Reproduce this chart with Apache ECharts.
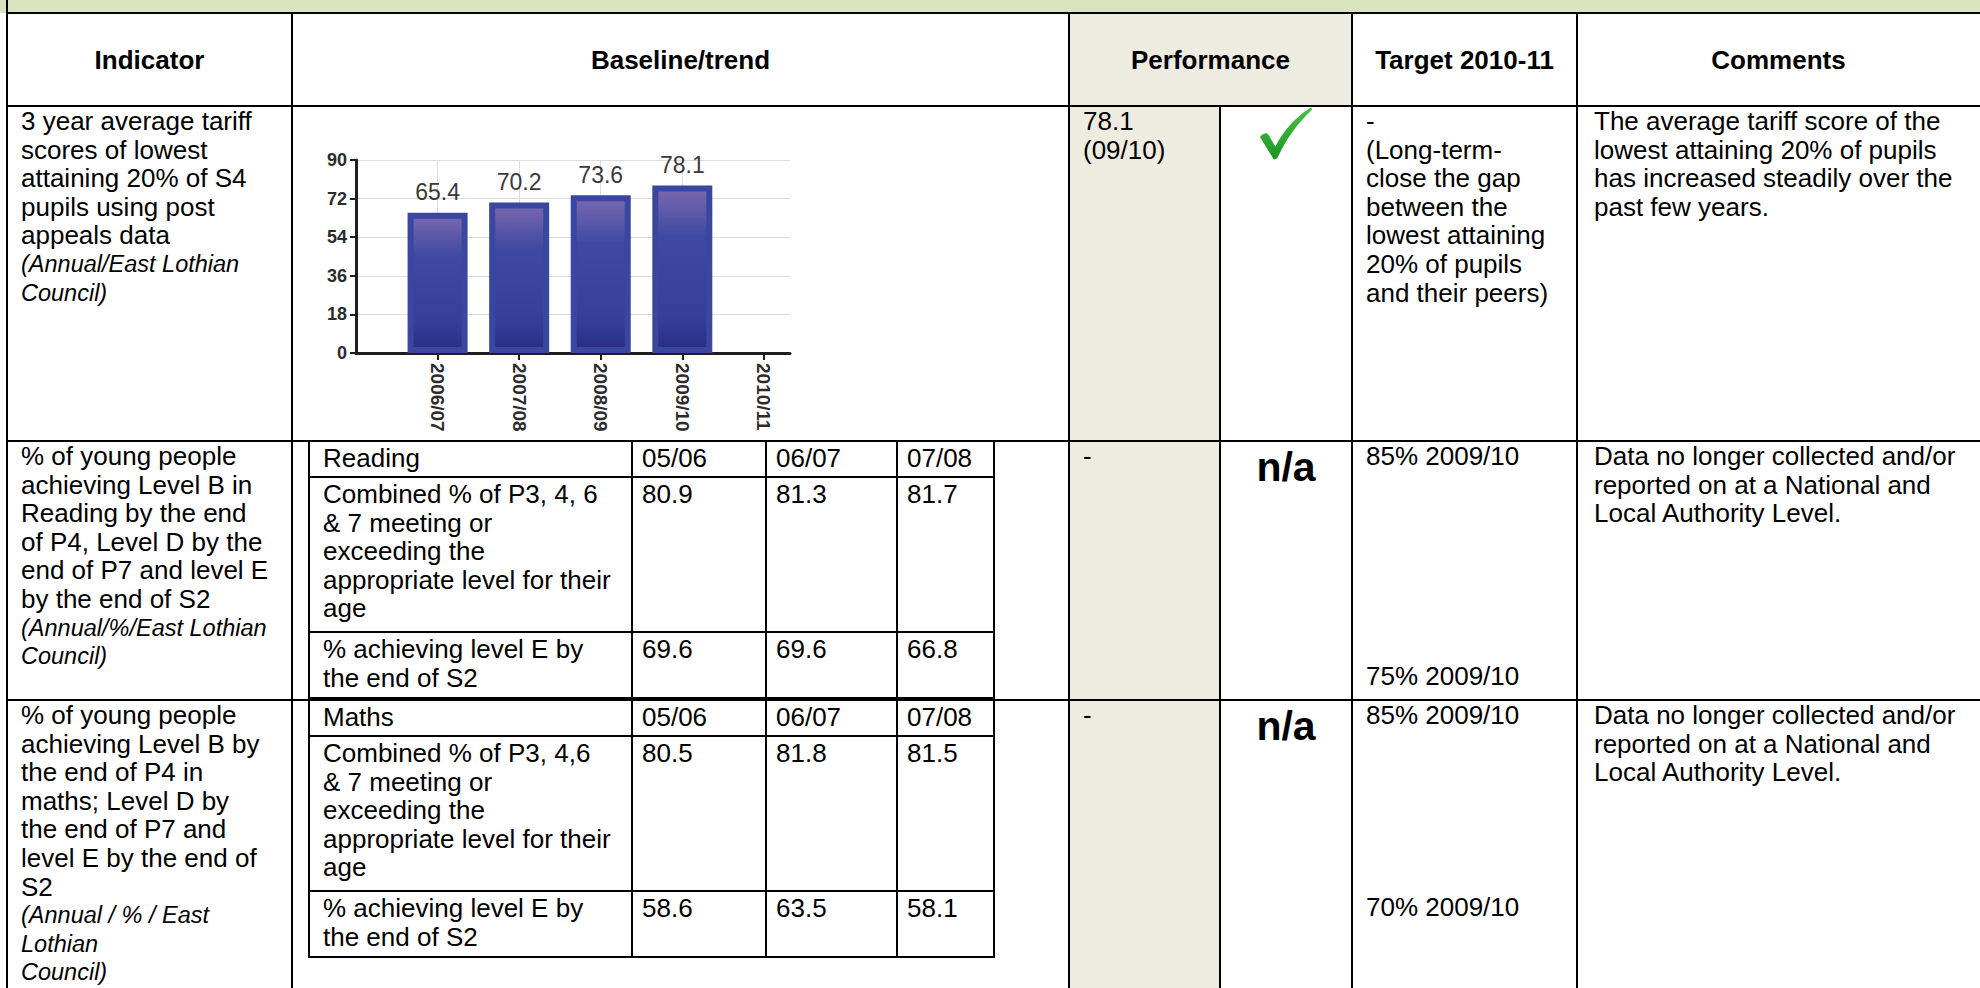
<!DOCTYPE html>
<html>
<head>
<meta charset="utf-8">
<title>Indicators</title>
<script src="https://cdn.jsdelivr.net/npm/echarts@6.0.0/dist/echarts.min.js"></script>
<style>
  html, body { margin: 0; padding: 0; background: #fff; overflow: hidden; }
  #page { position: relative; width: 1980px; height: 988px; overflow: hidden;
          font-family: "Liberation Sans", Arial, sans-serif; color: #000; }
  .ln { position: absolute; background: #000; }
  .fill { position: absolute; }
  .cell { position: absolute; font-size: 26px; line-height: 28.6px; white-space: nowrap; }
  .cell .it { font-style: italic; font-size: 23.5px; }
  .head { position: absolute; font-size: 26px; font-weight: bold; line-height: 30px;
          text-align: center; white-space: nowrap; }
  .na { position: absolute; font-size: 41px; font-weight: bold; line-height: 46px; text-align: center; }
  #chart { position: absolute; left: 0; top: 0; width: 1980px; height: 988px; pointer-events: none; }
</style>
</head>
<body>
<div id="page"><div id="chart"></div></div>
<script>
// bar chart data
var years = ['2006/07', '2007/08', '2008/09', '2009/10', '2010/11'];
var tariff = [65.4, 70.2, 73.6, 78.1];
var yTicks = [0, 18, 36, 54, 72, 90];

// table data
var headers = ['Indicator', 'Baseline/trend', 'Performance', 'Target 2010-11', 'Comments'];
var periods = ['05/06', '06/07', '07/08'];
var readingCombined = [80.9, 81.3, 81.7];
var readingLevelE = [69.6, 69.6, 66.8];
var mathsCombined = [80.5, 81.8, 81.5];
var mathsLevelE = [58.6, 63.5, 58.1];

var ind1 = ['3 year average tariff', 'scores of lowest', 'attaining 20% of S4', 'pupils using post', 'appeals data'];
var src1 = ['(Annual/East Lothian', 'Council)'];
var ind2 = ['% of young people', 'achieving Level B in', 'Reading by the end', 'of P4, Level D by the', 'end of P7 and level E', 'by the end of S2'];
var src2 = ['(Annual/%/East Lothian', 'Council)'];
var ind3 = ['% of young people', 'achieving Level B by', 'the end of P4 in', 'maths; Level D by', 'the end of P7 and', 'level E by the end of', 'S2'];
var src3 = ['(Annual / % / East', 'Lothian', 'Council)'];

var perf1 = ['78.1', '(09/10)'];
var perf23 = ['-'];
var target1 = ['-', '(Long-term-', 'close the gap', 'between the', 'lowest attaining', '20% of pupils', 'and their peers)'];
var target2 = ['85% 2009/10', '75% 2009/10'];
var target3 = ['85% 2009/10', '70% 2009/10'];
var comment1 = ['The average tariff score of the', 'lowest attaining 20% of pupils', 'has increased steadily over the', 'past few years.'];
var comment23 = ['Data no longer collected and/or', 'reported on at a National and', 'Local Authority Level.'];

var combinedLabel2 = ['Combined % of P3, 4, 6', '& 7 meeting or', 'exceeding the', 'appropriate level for their', 'age'];
var combinedLabel3 = ['Combined % of P3, 4,6', '& 7 meeting or', 'exceeding the', 'appropriate level for their', 'age'];
var levelELabel = ['% achieving level E by', 'the end of S2'];

// layout
var X = [7, 292, 1069, 1220, 1352, 1577, 1981];
var Y = [13, 106, 441, 700, 1000];
var LH = 28.6;
var page = document.getElementById('page');

function add(cls, css, text) {
  var d = document.createElement('div');
  d.className = cls;
  for (var k in css) d.style[k] = typeof css[k] === 'number' ? css[k] + 'px' : css[k];
  if (text !== undefined) d.textContent = text;
  page.insertBefore(d, document.getElementById('chart'));
  return d;
}
function hline(x0, x1, y, w) {
  add('ln', {left: x0 - 1, top: y - w / 2, width: x1 - x0 + 2, height: w});
}
function vline(x, y0, y1, w) {
  add('ln', {left: x - w / 2, top: y0, width: w, height: y1 - y0});
}
function cell(x, y, lines, italic) {
  var d = add('cell', {left: x, top: y});
  lines.forEach(function (t) {
    var s = document.createElement('div');
    s.textContent = t;
    d.appendChild(s);
  });
  (italic || []).forEach(function (t) {
    var s = document.createElement('div');
    s.className = 'it';
    s.textContent = t;
    d.appendChild(s);
  });
  return d;
}

// backgrounds
add('fill', {left: 0, top: 0, width: 1980, height: Y[0], background: '#d7e4bd'});
add('fill', {left: X[2], top: Y[0], width: X[4] - X[2], height: Y[1] - Y[0], background: '#eeece1'});
add('fill', {left: X[2], top: Y[1], width: X[3] - X[2], height: 988 - Y[1], background: '#eeece1'});

// outer table rules
[Y[0], Y[1], Y[2], Y[3]].forEach(function (y) { hline(X[0], X[6], y, 2); });
vline(X[0], 0, 988, 2);
[X[1], X[2], X[4], X[5]].forEach(function (x) { vline(x, Y[0], 988, 2); });
vline(X[3], Y[1], 988, 2);

// headers
var spans = [[X[0], X[1]], [X[1], X[2]], [X[2], X[4]], [X[4], X[5]], [X[5], 1980]];
headers.forEach(function (h, i) {
  add('head', {left: spans[i][0], width: spans[i][1] - spans[i][0], top: 45}, h);
});

// indicator column
cell(X[0] + 14, Y[1] + 1, ind1, src1);
cell(X[0] + 14, Y[2] + 1, ind2, src2);
cell(X[0] + 14, Y[3] + 1, ind3, src3);

// performance
cell(X[2] + 14, Y[1] + 1, perf1);
cell(X[2] + 14, Y[2] + 1, perf23);
cell(X[2] + 14, Y[3] + 1, perf23);
add('na', {left: X[3], width: X[4] - X[3], top: Y[2] + 3}, 'n/a');
add('na', {left: X[3], width: X[4] - X[3], top: Y[3] + 3}, 'n/a');
var tick = add('fill', {left: 1257, top: 107, width: 56, height: 54});
tick.innerHTML = '<svg width="56" height="54" viewBox="0 0 58 54"><defs><linearGradient id="g" x1="0" y1="0" x2="0" y2="1">' +
  '<stop offset="0" stop-color="#45c445"/><stop offset="1" stop-color="#1d9424"/></linearGradient></defs>' +
  '<path d="M3,30 C7,26 10,25 12,28 L19,40 C27,24 39,10 55,0 C57,0 58,1 56,3 C43,15 31,31 22,50 C20,54 17,54 16,51 Z" fill="url(#g)"/></svg>';

// target
cell(X[4] + 14, Y[1] + 1, target1);
cell(X[4] + 14, Y[2] + 1, [target2[0]]);
cell(X[4] + 14, Y[2] + 221, [target2[1]]);
cell(X[4] + 14, Y[3] + 1, [target3[0]]);
cell(X[4] + 14, Y[3] + 193, [target3[1]]);

// comments
cell(X[5] + 17, Y[1] + 1, comment1);
cell(X[5] + 17, Y[2] + 1, comment23);
cell(X[5] + 17, Y[3] + 1, comment23);

// nested tables in baseline column
function innerTable(top, subject, label, combined, levelE) {
  var cols = [309, 632, 766, 897, 994];
  var rows = [top, top + 36, top + 191, top + 257];
  rows.forEach(function (y) { hline(cols[0], cols[4], y, 2); });
  cols.forEach(function (x) { vline(x, rows[0], rows[3] + 1, 2); });
  cell(cols[0] + 14, rows[0] + 3, [subject]);
  periods.forEach(function (p, i) { cell(cols[i + 1] + 10, rows[0] + 3, [p]); });
  cell(cols[0] + 14, rows[1] + 3, label);
  combined.forEach(function (v, i) { cell(cols[i + 1] + 10, rows[1] + 3, [v.toFixed(1)]); });
  cell(cols[0] + 14, rows[2] + 3, levelELabel);
  levelE.forEach(function (v, i) { cell(cols[i + 1] + 10, rows[2] + 3, [v.toFixed(1)]); });
}
innerTable(Y[2], 'Reading', combinedLabel2, readingCombined, readingLevelE);
innerTable(Y[3], 'Maths', combinedLabel3, mathsCombined, mathsLevelE);

// trend chart
var chart = echarts.init(document.getElementById('chart'), null, {renderer: 'svg'});
var axisColor = '#1e1e1e';
chart.setOption({
  animation: false,
  textStyle: {fontFamily: 'Liberation Sans'},
  grid: {left: 356, top: 160, width: 434, height: 193},
  xAxis: {
    type: 'value',
    min: 0,
    max: 5.32,
    interval: 1,
    axisLine: {show: true, onZero: false, lineStyle: {color: axisColor, width: 3}},
    axisTick: {show: true, length: 7, lineStyle: {color: axisColor, width: 2},
      customValues: years.map(function (y, i) { return i + 1; })},
    axisLabel: {
      rotate: -90, margin: 10, fontSize: 19, fontWeight: 'bold', color: '#2b2b2b',
      customValues: years.map(function (y, i) { return i + 1; }),
      formatter: function (v) { return years[Math.round(v) - 1] || ''; }
    },
    splitLine: {show: true, showMaxLine: false, lineStyle: {color: '#dcdcdc', width: 1}}
  },
  yAxis: {
    type: 'value',
    min: yTicks[0],
    max: yTicks[yTicks.length - 1],
    interval: yTicks[1] - yTicks[0],
    axisLine: {show: true, lineStyle: {color: axisColor, width: 3}},
    axisTick: {show: true, length: 6, lineStyle: {color: axisColor, width: 2}},
    axisLabel: {margin: 9, fontSize: 18, fontWeight: 'bold', color: '#2b2b2b'},
    splitLine: {show: true, lineStyle: {color: '#dcdcdc', width: 1}}
  },
  series: [{
    type: 'bar',
    data: tariff.map(function (v, i) { return [i + 1, v]; }),
    barWidth: 60,
    itemStyle: {
      borderColor: '#3b46a0',
      borderWidth: 6,
      color: new echarts.graphic.LinearGradient(0, 0, 0, 1, [
        {offset: 0, color: '#7868b0'},
        {offset: 0.3, color: '#3f49a1'},
        {offset: 0.8, color: '#353f98'},
        {offset: 1, color: '#2a2c84'}
      ])
    },
    label: {
      show: true, position: 'top', distance: 9, fontSize: 23, color: '#3a3a3a',
      formatter: function (p) { return p.value[1].toFixed(1); }
    }
  }]
});
</script>
</body>
</html>
